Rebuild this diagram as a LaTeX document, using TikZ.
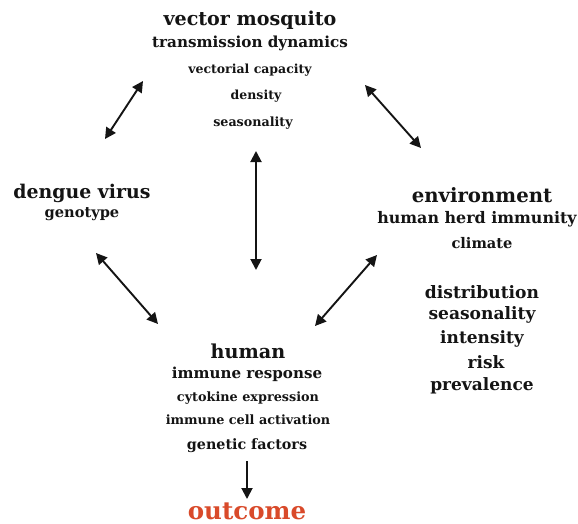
\documentclass[tikz,border=0pt]{standalone}
\usepackage{fontspec}
\setmainfont{DejaVu Serif}
\usetikzlibrary{arrows.meta}
\definecolor{outred}{RGB}{217,74,42}
\definecolor{txt}{RGB}{20,20,20}
\newcommand\fsz[1]{\bfseries\fontsize{#1}{#1}\selectfont}
\tikzset{
  lbl/.style={inner sep=0pt, text=txt},
  dbl/.style={{Triangle[length=11pt,width=11pt]}-{Triangle[length=11pt,width=11pt]}, line width=1.9pt, draw=txt},
  sgl/.style={-{Triangle[length=11pt,width=11pt]}, line width=1.9pt, draw=txt}
}
\begin{document}
\begin{tikzpicture}[x=1pt,y=-1pt]
\useasboundingbox[fill=white] (0,0) rectangle (578,524);
% vector mosquito
\node[lbl, font=\fsz{19.1}] (vm) at (250,20) {vector mosquito};
\node[lbl, font=\fsz{15.2}] (td) at (250,43) {transmission dynamics};
\node[lbl, font=\fsz{12.5}] (vc) at (250,70) {vectorial capacity};
\node[lbl, font=\fsz{12.5}] (de) at (256,96) {density};
\node[lbl, font=\fsz{12.7}] (se) at (253,123) {seasonality};
% dengue virus
\node[lbl, font=\fsz{18.9}] (dv) at (82,193) {dengue virus};
\node[lbl, font=\fsz{14.6}] (ge) at (82,214) {genotype};
% environment
\node[lbl, font=\fsz{19.7}] (en) at (482,195) {environment};
\node[lbl, font=\fsz{15.9}] (hh) at (477,219) {human herd immunity};
\node[lbl, font=\fsz{14.6}] (cl) at (482,243) {climate};
\node[lbl, font=\fsz{17.1}] (di) at (482,292) {distribution};
\node[lbl, font=\fsz{17.1}] (sa) at (482,315) {seasonality};
\node[lbl, font=\fsz{17.0}] (in) at (482,339) {intensity};
\node[lbl, font=\fsz{17.0}] (ri) at (486,362) {risk};
\node[lbl, font=\fsz{17.0}] (pr) at (482,386) {prevalence};
% human
\node[lbl, font=\fsz{19.2}] (hu) at (248,351) {human};
\node[lbl, font=\fsz{15.1}] (ir) at (247,374) {immune response};
\node[lbl, font=\fsz{12.8}] (ce) at (248,398) {cytokine expression};
\node[lbl, font=\fsz{12.8}] (ic) at (248,420) {immune cell activation};
\node[lbl, font=\fsz{14.3}] (gf) at (247,446) {genetic factors};
\node[lbl, font=\fsz{24.5}, text=outred] (oc) at (247,511) {outcome};
% arrow end points
\coordinate (a1) at (105,139);
\coordinate (a2) at (143,81);
\coordinate (b1) at (365,85);
\coordinate (b2) at (421,148);
\coordinate (c1) at (256,151);
\coordinate (c2) at (256,270);
\coordinate (d1) at (96,253);
\coordinate (d2) at (158,324);
\coordinate (e1) at (377,255);
\coordinate (e2) at (315,326);
\coordinate (f1) at (247,461);
\coordinate (f2) at (247,499);
\draw[dbl] (a1) -- (a2);
\draw[dbl] (b1) -- (b2);
\draw[dbl] (c1) -- (c2);
\draw[dbl] (d1) -- (d2);
\draw[dbl] (e1) -- (e2);
\draw[sgl] (f1) -- (f2);
\end{tikzpicture}
\end{document}
